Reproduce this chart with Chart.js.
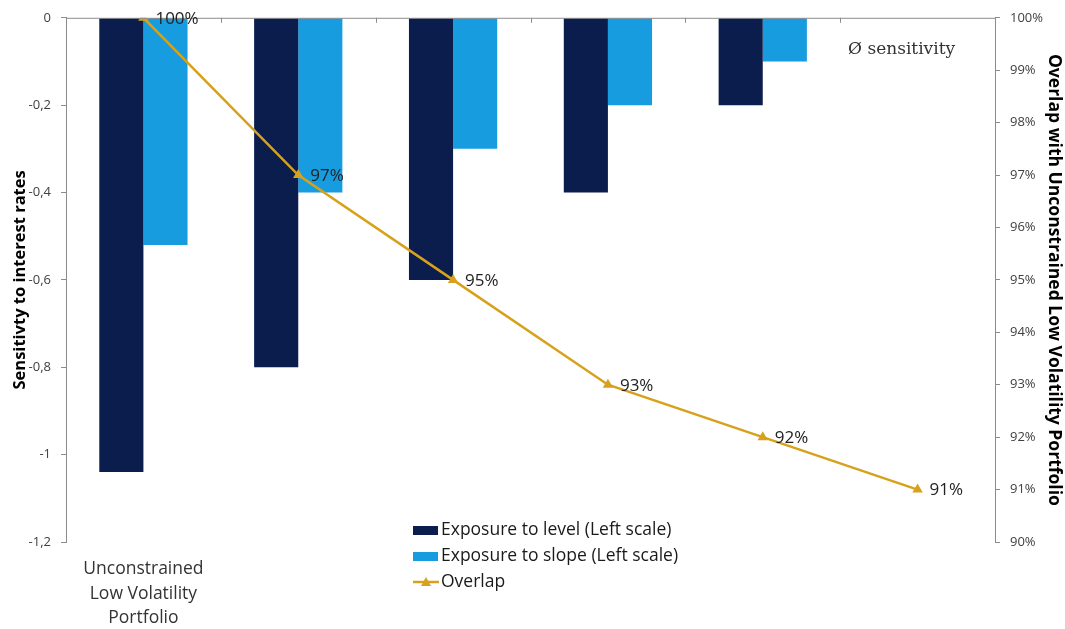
<!DOCTYPE html>
<html>
<head>
<meta charset="utf-8">
<script src="https://cdn.jsdelivr.net/npm/chart.js@4.4.1/dist/chart.umd.min.js"></script>
<style>
  html, body { margin: 0; padding: 0; background: #fff; }
  #wrap { width: 1065px; height: 629px; }
</style>
</head>
<body>
<div id="wrap"><canvas id="myChart" width="1065" height="629"></canvas></div>
<script>
// valores del grafico
const categorias = [["Unconstrained", "Low Volatility", "Portfolio"], "", "", "", "", ""];
const exposicionNivel = [-1.04, -0.8, -0.6, -0.4, -0.2, null];
const exposicionPendiente = [-0.52, -0.4, -0.3, -0.2, -0.1, null];
const overlap = [100, 97, 95, 93, 92, 91];
const ticksIzq = [0, -0.2, -0.4, -0.6, -0.8, -1, -1.2];
const ticksDer = [90, 91, 92, 93, 94, 95, 96, 97, 98, 99, 100];

const fuente = "'Open Sans', Lato, sans-serif";
const colorNivel = "#0b1d4d";
const colorPendiente = "#179ce0";
const colorLinea = "#d7a11c";
const colorEje = "#8c8c8c";

// linea del cero arriba con marcas entre categorias
const lineaCero = {
    id: "lineaCero",
    afterDatasetsDraw(chart) {
        const ctx = chart.ctx;
        const y = chart.scales.y.getPixelForValue(0);
        const area = chart.chartArea;
        ctx.save();
        ctx.strokeStyle = colorEje;
        ctx.lineWidth = 1;
        ctx.beginPath();
        ctx.moveTo(area.left, y + 0.5);
        ctx.lineTo(area.right, y + 0.5);
        const paso = (area.right - area.left) / categorias.length;
        for (let i = 1; i < categorias.length; i++) {
            const px = Math.round(area.left + paso * i) + 0.5;
            ctx.moveTo(px, y);
            ctx.lineTo(px, y + 5);
        }
        ctx.stroke();
        ctx.restore();
    }
};

// etiquetas de porcentaje junto a cada punto
const etiquetas = {
    id: "etiquetas",
    afterDatasetsDraw(chart) {
        const ctx = chart.ctx;
        const meta = chart.getDatasetMeta(2);
        ctx.save();
        ctx.font = "17px " + fuente;
        ctx.fillStyle = "#222";
        ctx.textAlign = "left";
        ctx.textBaseline = "middle";
        meta.data.forEach((p, i) => {
            ctx.fillText(overlap[i] + "%", p.x + 12, p.y + 1);
        });
        // texto de la ultima categoria
        const xc = chart.scales.x.getPixelForValue(5);
        ctx.font = "17px 'DejaVu Serif', 'Liberation Serif', serif";
        ctx.fillStyle = "#333";
        ctx.textAlign = "center";
        ctx.fillText("\u00D8 sensitivity", xc - 16, chart.scales.y.getPixelForValue(-0.072));
        ctx.restore();
    }
};

// leyenda dibujada a mano
const leyenda = {
    id: "leyenda",
    afterDraw(chart) {
        const ctx = chart.ctx;
        const x0 = 413;
        const filas = [
            { texto: "Exposure to level (Left scale)", color: colorNivel, tipo: "caja", y: 530 },
            { texto: "Exposure to slope (Left scale)", color: colorPendiente, tipo: "caja", y: 556 },
            { texto: "Overlap", color: colorLinea, tipo: "linea", y: 582 }
        ];
        ctx.save();
        ctx.font = "17.5px " + fuente;
        ctx.textBaseline = "middle";
        for (const f of filas) {
            if (f.tipo === "caja") {
                ctx.fillStyle = f.color;
                ctx.fillRect(x0, f.y - 4, 25, 9);
            } else {
                ctx.strokeStyle = f.color;
                ctx.lineWidth = 2.5;
                ctx.beginPath();
                ctx.moveTo(x0, f.y);
                ctx.lineTo(x0 + 26, f.y);
                ctx.stroke();
                ctx.fillStyle = f.color;
                ctx.beginPath();
                ctx.moveTo(x0 + 13, f.y - 5);
                ctx.lineTo(x0 + 18, f.y + 4);
                ctx.lineTo(x0 + 8, f.y + 4);
                ctx.closePath();
                ctx.fill();
            }
            ctx.fillStyle = "#1a1a1a";
            ctx.fillText(f.texto, x0 + 28, f.y);
        }
        ctx.restore();
    }
};

const ctx = document.getElementById("myChart").getContext("2d");
const myChart = new Chart(ctx, {
    type: "bar",
    data: {
        labels: categorias,
        datasets: [
            {
                label: "Exposure to level (Left scale)",
                data: exposicionNivel,
                backgroundColor: colorNivel,
                yAxisID: "y",
                order: 2
            },
            {
                label: "Exposure to slope (Left scale)",
                data: exposicionPendiente,
                backgroundColor: colorPendiente,
                yAxisID: "y",
                order: 2
            },
            {
                type: "line",
                label: "Overlap",
                data: overlap,
                borderColor: colorLinea,
                backgroundColor: colorLinea,
                borderWidth: 2.5,
                pointStyle: "triangle",
                pointRadius: 6,
                pointBorderWidth: 0,
                yAxisID: "y1",
                order: 1
            }
        ]
    },
    plugins: [lineaCero, etiquetas, leyenda],
    options: {
        responsive: false,
        animation: false,
        layout: { padding: { top: 17, left: 0, right: 0, bottom: 0 } },
        datasets: {
            bar: { barPercentage: 1, categoryPercentage: 0.57 }
        },
        plugins: {
            legend: { display: false },
            tooltip: { enabled: false }
        },
        scales: {
            x: {
                position: "bottom",
                grid: { display: false },
                border: { display: false },
                ticks: {
                    color: "#333",
                    font: { family: fuente, size: 17.5, lineHeight: 1.4 },
                    padding: 7,
                    maxRotation: 0,
                    autoSkip: false
                },
                afterFit(s) { s.height = 87; }
            },
            y: {
                position: "left",
                min: -1.2,
                max: 0,
                afterBuildTicks(s) { s.ticks = ticksIzq.map(v => ({ value: v })); },
                ticks: {
                    color: "#404040",
                    font: { family: fuente, size: 13 },
                    padding: 10,
                    callback: v => String(Number(v.toFixed(1)) + 0).replace(".", ",")
                },
                grid: { drawOnChartArea: false, tickLength: 5, color: colorEje },
                border: { color: colorEje },
                title: {
                    display: true,
                    text: "Sensitivty to interest rates",
                    color: "#000",
                    font: { family: fuente, size: 16.5, weight: "bold" },
                    padding: { top: 10, bottom: 0 }
                },
                afterFit(s) { s.width = 66; }
            },
            y1: {
                position: "right",
                min: 90,
                max: 100,
                afterBuildTicks(s) { s.ticks = ticksDer.map(v => ({ value: v })); },
                ticks: {
                    color: "#404040",
                    font: { family: fuente, size: 13 },
                    padding: 10,
                    callback: v => v + "%"
                },
                grid: { drawOnChartArea: false, tickLength: 5, color: colorEje },
                border: { color: colorEje },
                title: {
                    display: true,
                    text: "Overlap with Unconstrained Low Volatility Portfolio",
                    color: "#000",
                    font: { family: fuente, size: 17.5, weight: "bold" },
                    padding: { top: 1, bottom: 0 }
                },
                afterFit(s) { s.width = 70; }
            }
        }
    }
});
</script>
</body>
</html>
